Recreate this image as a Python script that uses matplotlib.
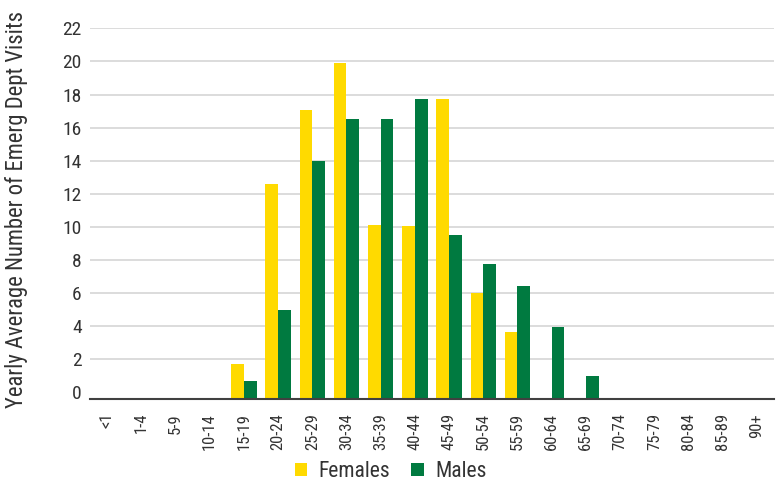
import numpy as np
import matplotlib
matplotlib.use("Agg")
import matplotlib.pyplot as plt
from matplotlib import font_manager

# age groups and yearly average ED visits
age_groups = ["<1", "1-4", "5-9", "10-14", "15-19", "20-24", "25-29", "30-34", "35-39",
              "40-44", "45-49", "50-54", "55-59", "60-64", "65-69", "70-74", "75-79",
              "80-84", "85-89", "90+"]
females = [0, 0, 0, 0, 1.7, 12.6, 17.05, 19.9, 10.1, 10.05, 17.7, 6.0, 3.65, 0, 0, 0, 0, 0, 0, 0]
males = [0, 0, 0, 0, 0.7, 5.0, 14.0, 16.5, 16.5, 17.7, 9.5, 7.75, 6.4, 3.95, 0.98, 0, 0, 0, 0, 0]
yticks = list(range(0, 23, 2))

# prefer a narrow face if one is around
names = {f.name for f in font_manager.fontManager.ttflist}
fam = "DejaVu Sans"
for cand in ["Roboto Condensed", "Liberation Sans Narrow", "Open Sans Condensed",
             "Noto Sans Condensed", "DejaVu Sans Condensed", "Roboto"]:
    if cand in names:
        fam = cand
        break
plt.rcParams["font.family"] = [fam, "DejaVu Sans"]

yellow = "#FFDA00"
green = "#007A40"
text_col = "#333333"

fig = plt.figure(figsize=(7.81, 4.94), dpi=100)
ax = fig.add_axes([0.1152, 0.1923, 0.8758, 0.7504])

base = -0.4  # axis line sits a bit below zero
x = np.arange(len(age_groups))
w = 0.37
f = np.array(females)
m = np.array(males)
ax.bar(x - w / 2, np.where(f > 0, f - base, 0), bottom=base, width=w, color=yellow, label="Females", zorder=3)
ax.bar(x + w / 2, np.where(m > 0, m - base, 0), bottom=base, width=w, color=green, label="Males", zorder=3)

ax.set_xlim(-0.5, len(age_groups) - 0.5)
ax.set_ylim(base, 22)
ax.set_yticks(yticks)
ax.set_yticklabels([str(t) for t in yticks], fontsize=14, color=text_col)
ax.set_xticks(x)
ax.set_xticklabels(age_groups, rotation=90, fontsize=12, color=text_col)
ax.tick_params(length=0)
ax.tick_params(axis="x", pad=10)
ax.tick_params(axis="y", pad=6)

ax.grid(axis="y", color="#d9d9d9", linewidth=1.3, zorder=0)
ax.yaxis.get_gridlines()[0].set_visible(False)
for s in ["top", "right", "left"]:
    ax.spines[s].set_visible(False)
ax.spines["bottom"].set_color("#404040")
ax.spines["bottom"].set_linewidth(1.5)
ax.spines["bottom"].set_zorder(4)

ax.set_ylabel("Yearly Average Number of Emerg Dept Visits", fontsize=16.3, color=text_col)
ax.yaxis.set_label_coords(-0.09, 0.51)

fig.legend(loc="lower center", bbox_to_anchor=(0.5, -0.015), ncol=2, frameon=False,
           fontsize=15.5, handlelength=0.6, handleheight=0.6, columnspacing=1.0, handletextpad=0.5,
           labelcolor=text_col)

fig.savefig("out.png", dpi=100)
